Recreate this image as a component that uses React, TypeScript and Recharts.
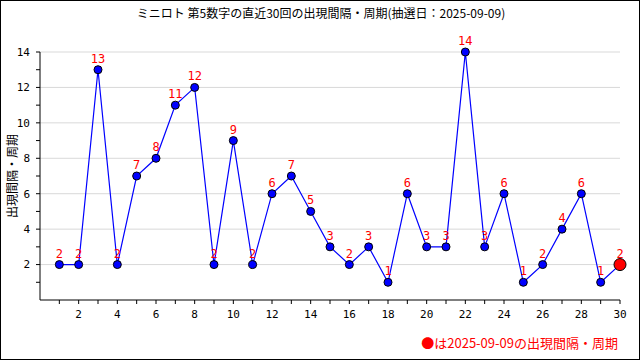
import { LineChart, Line, XAxis, YAxis, CartesianGrid, LabelList } from "recharts";

const DRAWS = [
  1, 2, 3, 4, 5, 6, 7, 8, 9, 10, 11, 12, 13, 14, 15, 16, 17, 18, 19, 20, 21, 22, 23, 24, 25, 26, 27,
  28, 29, 30,
];
const INTERVALS = [2, 2, 13, 2, 7, 8, 11, 12, 2, 9, 2, 6, 7, 5, 3, 2, 3, 1, 6, 3, 3, 14, 3, 6, 1, 2, 4, 6, 1, 2];
const X_TICKS = DRAWS;
const Y_TICKS = [1, 2, 3, 4, 5, 6, 7, 8, 9, 10, 11, 12, 13, 14];
const GRID_VALUES = [2, 4, 6, 8, 10, 12, 14];

const TITLE = "ミニロト 第5数字の直近30回の出現間隔・周期(抽選日：2025-09-09)";
const Y_LABEL = "出現間隔・周期";
const NOTE = "●は2025-09-09の出現間隔・周期";

const data = DRAWS.map((d, i) => ({ draw: d, value: INTERVALS[i] }));

const FONT = "'DejaVu Sans Mono', 'Noto Sans CJK JP', monospace";
const JP_FONT = "'Noto Sans CJK JP', sans-serif";

function Dot(props: any) {
  const { cx, cy, index } = props;
  const last = index === data.length - 1;
  return (
    <circle
      key={index}
      cx={cx}
      cy={cy}
      r={last ? 6 : 4}
      fill={last ? "#ff0000" : "#0000ff"}
      stroke="#000"
      strokeWidth={1}
    />
  );
}

const evenOnly = (v: number) => (v % 2 === 0 ? String(v) : "");

export default function App() {
  return (
    <div
      style={{
        position: "absolute",
        left: 0,
        top: 0,
        width: 640,
        height: 360,
        boxSizing: "border-box",
        border: "1px solid #000",
        background: "#fff",
      }}
    >
      <div
        style={{
          position: "absolute",
          left: 0,
          top: 3,
          width: 640,
          textAlign: "center",
          fontFamily: JP_FONT,
          fontSize: 12,
          color: "#000",
        }}
      >
        {TITLE}
      </div>
      <div
        style={{
          position: "absolute",
          left: 10,
          top: 175,
          transform: "translate(-50%, -50%) rotate(-90deg)",
          fontFamily: JP_FONT,
          fontSize: 12,
          whiteSpace: "nowrap",
        }}
      >
        {Y_LABEL}
      </div>
      <div style={{ position: "absolute", left: -1, top: -1 }}>
        <LineChart width={640} height={360} data={data} margin={{ top: 52, right: 20, bottom: 30, left: 0 }}>
          <CartesianGrid horizontal vertical={false} stroke="#d9d9d9" horizontalValues={GRID_VALUES} />
          <XAxis
            dataKey="draw"
            type="number"
            domain={[0, 30]}
            ticks={X_TICKS}
            tickFormatter={evenOnly}
            interval={0}
            height={30}
            tickSize={4}
            stroke="#000"
            tick={{ fill: "#000", fontSize: 11, fontFamily: FONT }}
            tickMargin={6}
          />
          <YAxis
            type="number"
            domain={[0, 14]}
            ticks={Y_TICKS}
            tickFormatter={evenOnly}
            interval={0}
            width={40}
            tickSize={4}
            stroke="#000"
            tick={{ fill: "#000", fontSize: 11, fontFamily: FONT }}
            tickMargin={6}
          />
          <Line
            dataKey="value"
            stroke="#0000ff"
            strokeWidth={1.2}
            dot={Dot}
            activeDot={false}
            isAnimationActive={false}
          >
            <LabelList dataKey="value" position="top" offset={7} fill="#ff0000" fontSize={12} fontFamily={FONT} />
          </Line>
        </LineChart>
      </div>
      <div
        style={{
          position: "absolute",
          right: 21,
          top: 332,
          fontFamily: JP_FONT,
          fontSize: 13,
          color: "#ff0000",
          whiteSpace: "nowrap",
        }}
      >
        {NOTE}
      </div>
    </div>
  );
}
